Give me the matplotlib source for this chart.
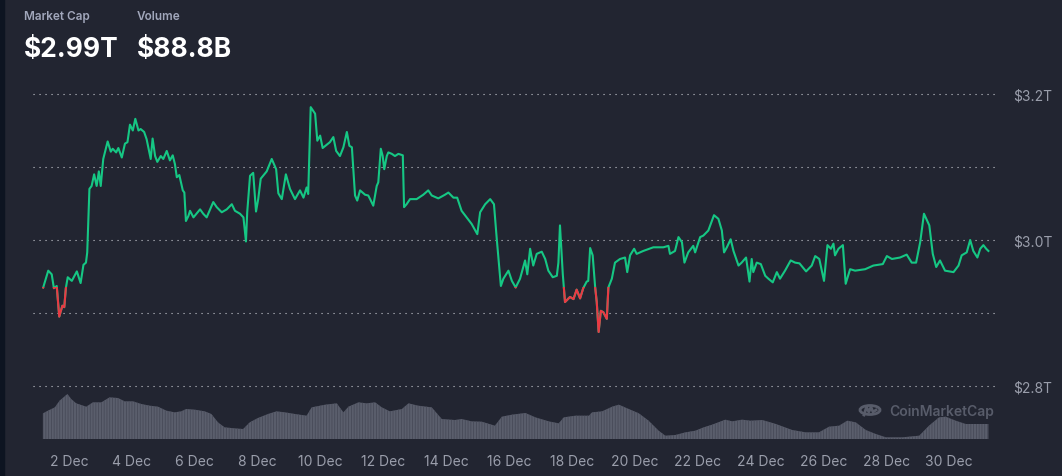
import numpy as np
import matplotlib
matplotlib.use('Agg')
import matplotlib.pyplot as plt
from matplotlib.patches import Rectangle, Circle
from matplotlib.lines import Line2D

# Total market cap (trillions USD), x = day of December
price_days = [1.18, 1.34, 1.45, 1.52, 1.61, 1.69, 1.79, 1.85, 1.90, 1.96, 2.09, 2.25, 2.37, 2.46, 2.54, 2.58,
              2.65, 2.72, 2.80, 2.88, 2.95, 3.01, 3.09, 3.23, 3.33, 3.39, 3.50, 3.57, 3.68, 3.78, 3.86, 3.94,
              4.03, 4.11, 4.21, 4.28, 4.39, 4.47, 4.60, 4.66, 4.74, 4.81, 4.92, 5.00, 5.11, 5.21, 5.30, 5.37,
              5.43, 5.51, 5.62, 5.67, 5.72, 5.80, 5.85, 5.96, 6.17, 6.27, 6.38, 6.59, 6.70, 6.86, 7.02, 7.18,
              7.28, 7.44, 7.55, 7.63, 7.67, 7.76, 7.86, 7.95, 8.02, 8.10, 8.29, 8.45, 8.59, 8.66, 8.77, 8.90,
              9.03, 9.19, 9.35, 9.46, 9.56, 9.61, 9.69, 9.83, 9.90, 9.99, 10.07, 10.30, 10.41, 10.50, 10.62,
              10.73, 10.84, 10.92, 11.00, 11.10, 11.17, 11.26, 11.42, 11.52, 11.58, 11.68, 11.79, 11.84, 11.92,
              11.98, 12.03, 12.11, 12.16, 12.27, 12.37, 12.48, 12.62, 12.66, 12.74, 12.85, 13.06, 13.27, 13.43,
              13.54, 13.75, 13.96, 14.07, 14.23, 14.35, 14.49, 14.65, 14.81, 14.99, 15.08, 15.24, 15.40, 15.52,
              15.61, 15.74, 15.82, 15.98, 16.09, 16.21, 16.35, 16.51, 16.58, 16.67, 16.77, 16.88, 17.04, 17.15,
              17.25, 17.39, 17.52, 17.57, 17.62, 17.71, 17.78, 17.94, 18.05, 18.15, 18.26, 18.36, 18.47, 18.52,
              18.58, 18.66, 18.74, 18.79, 18.85, 18.92, 19.00, 19.11, 19.16, 19.27, 19.37, 19.53, 19.69, 19.76,
              19.85, 19.98, 20.06, 20.27, 20.59, 20.91, 21.07, 21.12, 21.28, 21.39, 21.50, 21.58, 21.70, 21.86,
              21.92, 22.08, 22.18, 22.34, 22.52, 22.66, 22.77, 22.84, 22.93, 23.05, 23.14, 23.30, 23.40, 23.54,
              23.65, 23.72, 23.77, 23.88, 24.01, 24.15, 24.25, 24.39, 24.52, 24.62, 24.78, 24.96, 25.10, 25.24,
              25.45, 25.63, 25.74, 25.87, 26.02, 26.13, 26.24, 26.32, 26.37, 26.48, 26.62, 26.71, 26.85, 27.01,
              27.33, 27.59, 27.89, 28.02, 28.18, 28.44, 28.65, 28.81, 28.95, 29.08, 29.20, 29.37, 29.48, 29.59,
              29.71, 29.87, 30.14, 30.30, 30.40, 30.56, 30.67, 30.77, 30.90, 30.99, 31.09, 31.18, 31.25]
price_vals = [2.935, 2.958, 2.953, 2.934, 2.937, 2.895, 2.910, 2.908, 2.934, 2.949, 2.944, 2.957, 2.941, 2.966,
              2.969, 2.983, 3.070, 3.074, 3.090, 3.074, 3.094, 3.074, 3.111, 3.135, 3.121, 3.125, 3.120, 3.126,
              3.113, 3.132, 3.134, 3.158, 3.150, 3.166, 3.150, 3.152, 3.148, 3.138, 3.111, 3.139, 3.115, 3.107,
              3.115, 3.111, 3.122, 3.109, 3.116, 3.104, 3.086, 3.089, 3.068, 3.065, 3.026, 3.033, 3.040, 3.031,
              3.042, 3.036, 3.031, 3.052, 3.045, 3.038, 3.042, 3.049, 3.040, 3.036, 3.031, 2.998, 3.038, 3.088,
              3.092, 3.039, 3.056, 3.084, 3.094, 3.111, 3.097, 3.064, 3.056, 3.090, 3.070, 3.056, 3.068, 3.058,
              3.072, 3.063, 3.182, 3.173, 3.136, 3.143, 3.126, 3.134, 3.141, 3.122, 3.115, 3.127, 3.148, 3.129,
              3.127, 3.061, 3.054, 3.068, 3.062, 3.061, 3.056, 3.047, 3.074, 3.079, 3.125, 3.115, 3.097, 3.115,
              3.120, 3.118, 3.115, 3.118, 3.116, 3.045, 3.049, 3.056, 3.056, 3.062, 3.068, 3.061, 3.057, 3.062,
              3.065, 3.058, 3.058, 3.040, 3.031, 3.022, 3.008, 3.038, 3.049, 3.056, 3.049, 3.001, 2.937, 2.947,
              2.958, 2.944, 2.935, 2.947, 2.972, 2.953, 2.988, 2.965, 2.981, 2.984, 2.974, 2.958, 2.949, 2.951,
              2.969, 3.020, 2.953, 2.915, 2.922, 2.919, 2.932, 2.920, 2.934, 2.943, 2.944, 2.989, 2.979, 2.935,
              2.915, 2.874, 2.903, 2.901, 2.892, 2.935, 2.947, 2.969, 2.974, 2.976, 2.956, 2.979, 2.988, 2.981,
              2.985, 2.990, 2.990, 2.992, 2.981, 2.985, 3.004, 2.997, 2.969, 2.983, 2.992, 2.983, 3.004, 3.006,
              3.013, 3.034, 3.029, 3.013, 2.983, 2.990, 3.001, 2.985, 2.965, 2.969, 2.976, 2.943, 2.974, 2.956,
              2.969, 2.967, 2.951, 2.947, 2.942, 2.956, 2.947, 2.958, 2.972, 2.969, 2.968, 2.957, 2.965, 2.978,
              2.974, 2.944, 2.993, 2.988, 2.995, 2.979, 2.988, 2.993, 2.940, 2.960, 2.958, 2.960, 2.965, 2.967,
              2.978, 2.974, 2.976, 2.980, 2.969, 2.969, 2.997, 3.036, 3.020, 2.981, 2.963, 2.972, 2.958, 2.956,
              2.965, 2.979, 2.983, 3.000, 2.985, 2.976, 2.988, 2.993, 2.988, 2.985]

# Volume (billions USD, relative)
vol_days = [1.17, 1.33, 1.55, 1.70, 1.95, 2.07, 2.23, 2.55, 2.76, 3.03, 3.29, 3.56, 3.77, 4.04, 4.30, 4.57,
            4.83, 5.10, 5.36, 5.57, 5.73, 6.00, 6.32, 6.53, 6.74, 6.95, 7.27, 7.54, 7.75, 8.01, 8.33, 8.60,
            8.87, 9.19, 9.56, 9.72, 10.15, 10.52, 10.73, 10.89, 11.21, 11.47, 11.74, 11.95, 12.21, 12.59,
            12.80, 13.11, 13.54, 13.86, 14.28, 14.49, 14.81, 15.13, 15.55, 15.77, 16.09, 16.52, 16.84, 17.26,
            17.58, 17.74, 18.11, 18.54, 18.64, 18.96, 19.28, 19.49, 19.81, 20.13, 20.44, 20.76, 20.97, 21.29,
            21.61, 21.93, 22.19, 22.46, 22.88, 23.10, 23.41, 23.68, 24.06, 24.49, 25.01, 25.44, 25.86, 26.18,
            26.50, 26.76, 27.03, 27.35, 27.67, 27.99, 28.51, 29.05, 29.36, 29.68, 29.89, 30.21, 30.53, 30.76,
            31.14, 31.25]
vol_vals = [77, 85, 95, 115, 135, 120, 107, 97, 110, 110, 125, 123, 113, 113, 105, 100,
            97, 85, 80, 83, 90, 88, 83, 75, 50, 35, 32, 30, 50, 63, 75, 83,
            80, 75, 70, 95, 103, 107, 80, 97, 110, 107, 110, 95, 83, 90,
            107, 100, 95, 60, 57, 60, 53, 52, 40, 67, 73, 78, 65, 53,
            47, 65, 70, 70, 80, 83, 97, 103, 90, 77, 55, 25, 10, 12,
            20, 25, 35, 43, 58, 53, 58, 55, 57, 45, 27, 20, 20, 37,
            40, 55, 50, 27, 15, 5, 5, 10, 40, 65, 67, 55, 45, 45,
            45, 45]

grid_vals = [2.8, 2.9, 3.0, 3.1, 3.2]
label_vals = [2.8, 3.0, 3.2]
label_text = ['$2.8T', '$3.0T', '$3.2T']
tick_days = list(range(2, 31, 2))
tick_labels = [f'{d} Dec' for d in tick_days]

BG = '#222531'
GREEN = '#16c784'
RED = '#ea3943'
GRAY = '#9a9eab'

plt.rcParams['font.family'] = ['Inter', 'DejaVu Sans']

W, H = 1062, 477
fig = plt.figure(figsize=(W / 100, H / 100), dpi=100, facecolor=BG)
fig.patches.append(Rectangle((0, 0), 4 / W, 1, transform=fig.transFigure, color='#0d1421', zorder=0))

xmin, xmax = 0.855, 31.46
ax = fig.add_axes([33 / W, (H - 445) / H, 962 / W, 365 / H])
ax.set_facecolor('none')
ax.set_xlim(xmin, xmax)
ax.set_ylim(2.72055, 3.22055)

vax = fig.add_axes([33 / W, (H - 440) / H, 962 / W, 60 / H])
vax.set_facecolor('none')
vax.set_xlim(xmin, xmax)
vax.set_ylim(0, 180)

for a in (ax, vax):
    for s in a.spines.values():
        s.set_visible(False)

# dotted gridlines
for g in grid_vals:
    ax.axhline(g, color='#c9cbd2', lw=0.8, linestyle=(0, (1, 4.4)), zorder=1)

# volume area with striped look
plt.rcParams['hatch.linewidth'] = 0.6
vax.fill_between(vol_days, 0, vol_vals, facecolor='#5a5e6c', edgecolor='#474a58',
                 linewidth=0, hatch='||||||', zorder=1)

# price line: green above the opening value, red below
base = price_vals[0]
ax.plot(price_days, price_vals, color=GREEN, lw=1.5, zorder=3, solid_joinstyle='round')
red_line, = ax.plot(price_days, price_vals, color=RED, lw=1.5, zorder=4, solid_joinstyle='round')
clip = Rectangle((xmin, 2.7), xmax - xmin, base - 2.7, transform=ax.transData)
red_line.set_clip_path(clip)

# axes ticks
ax.set_xticks([])
ax.yaxis.tick_right()
ax.set_yticks(label_vals)
ax.set_yticklabels(label_text)
ax.tick_params(axis='y', length=0, pad=13, labelsize=10, labelcolor=GRAY)

vax.set_yticks([])
vax.set_xticks(tick_days)
vax.set_xticklabels(tick_labels)
vax.tick_params(axis='x', length=0, pad=11, labelsize=10, labelcolor=GRAY)

# header
fig.text(24 / W, 1 - 17 / H, 'Market Cap', color='#a1a7bb', fontsize=8.5, fontweight='semibold', va='center')
fig.text(24 / W, 1 - 50 / H, '$2.99T', color='white', fontsize=19, fontweight='bold', va='center')
fig.text(137 / W, 1 - 17 / H, 'Volume', color='#a1a7bb', fontsize=8.5, fontweight='semibold', va='center')
fig.text(137 / W, 1 - 50 / H, '$88.8B', color='white', fontsize=19, fontweight='bold', va='center')

# watermark
wm = '#585c6a'
fig.patches.append(Circle((870 / W, 1 - 411 / H), 10 / W, transform=fig.transFigure,
                          fill=False, edgecolor=wm, lw=2, zorder=5))
mx = (870 + np.array([-6, -3.5, -1.2, 1.0, 3.0, 6.0])) / W
my = 1 - (411 + np.array([5, -3, 2, -3, 2, 0])) / H
fig.lines.append(Line2D(mx, my, transform=fig.transFigure, color=wm, lw=2, solid_joinstyle='round'))
fig.text(889 / W, 1 - 412 / H, 'CoinMarketCap', color=wm, fontsize=10, fontweight='semibold', va='center')

fig.savefig('out.png', dpi=100, facecolor=BG)
